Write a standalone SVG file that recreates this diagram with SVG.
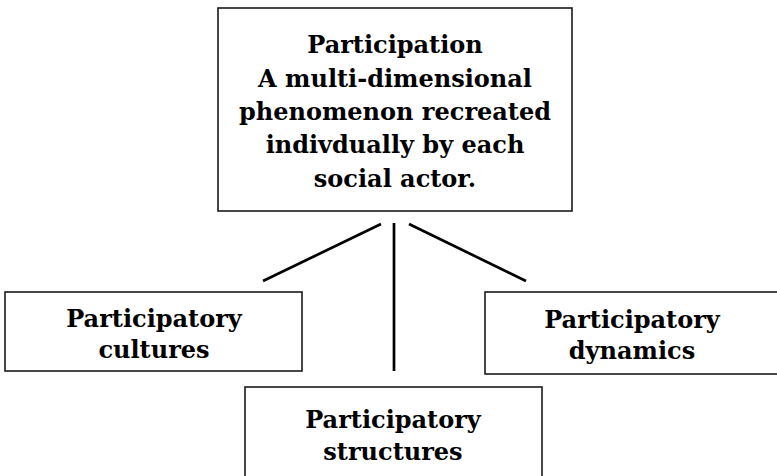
<svg xmlns="http://www.w3.org/2000/svg" width="777" height="476" viewBox="0 0 777 476">
<style>
.box{fill:#fff;stroke:#1a1a1a;stroke-width:1.6}
.t{font-family:"DejaVu Serif","Liberation Serif",serif;font-weight:bold;font-size:24px;text-anchor:middle;fill:#000}
.c{stroke:#000;stroke-width:2.7;fill:none}
</style>
<rect width="777" height="476" fill="#fff"/>
<g id="connectors">
<line class="c" x1="381" y1="224" x2="263" y2="281"/>
<line class="c" x1="394" y1="223" x2="394" y2="371"/>
<line class="c" x1="409" y1="224" x2="526" y2="281"/>
</g>
<g id="participation">
<rect class="box" x="218" y="8" width="354" height="203"/>
<text class="t" x="395" y="53">Participation</text>
<text class="t" x="395" y="87">A multi-dimensional</text>
<text class="t" x="395" y="120">phenomenon recreated</text>
<text class="t" x="395" y="153">indivdually by each</text>
<text class="t" x="395" y="187">social actor.</text>
</g>
<g id="cultures">
<rect class="box" x="5" y="292" width="297" height="79"/>
<text class="t" x="154" y="327">Participatory</text>
<text class="t" x="154" y="358">cultures</text>
</g>
<g id="dynamics">
<rect class="box" x="485" y="292" width="300" height="82"/>
<text class="t" x="632" y="328">Participatory</text>
<text class="t" x="632" y="359">dynamics</text>
</g>
<g id="structures">
<rect class="box" x="245" y="387" width="297" height="100"/>
<text class="t" x="393" y="428">Participatory</text>
<text class="t" x="393" y="460">structures</text>
</g>
</svg>
